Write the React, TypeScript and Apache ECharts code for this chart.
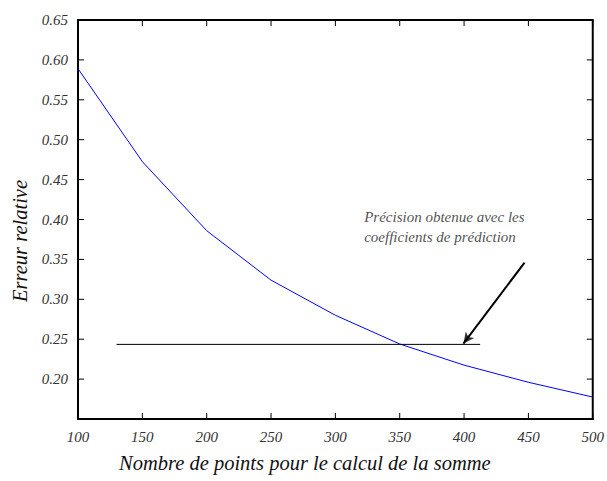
import React, { useEffect, useRef } from "react";
import * as echarts from "echarts";

const xValues = [100, 150, 200, 250, 300, 350, 400, 450, 500];
const erreur = [0.589, 0.4725, 0.386, 0.324, 0.28, 0.244, 0.2175, 0.196, 0.1775];
const yTicks = [0.15, 0.2, 0.25, 0.3, 0.35, 0.4, 0.45, 0.5, 0.55, 0.6, 0.65];
const precisionLevel = 0.2435;
const precisionRange = [130, 412.5];
const arrowFrom = [447, 0.346];
const arrowTo = [399.5, 0.2445];
const annotationAt = [322, 0.39];
const annotationLines = ["Précision obtenue avec les", "coefficients de prédiction"];
const xTitle = "Nombre de points pour le calcul de la somme";
const yTitle = "Erreur relative";

const X_MIN = 100;
const X_MAX = 500;
const Y_MIN = 0.15;
const Y_MAX = 0.65;
const serif = "Liberation Serif";

export default function App() {
  const ref = useRef<HTMLDivElement>(null);
  useEffect(() => {
    if (!ref.current) return;
    const chart = echarts.init(ref.current, null, { renderer: "svg" });
    const TL = 6;
    const frameItem = (params: any, api: any) => {
      const tl = api.coord([X_MIN, Y_MAX]);
      const br = api.coord([X_MAX, Y_MIN]);
      const children: any[] = [
        {
          type: "rect",
          shape: { x: tl[0], y: tl[1], width: br[0] - tl[0], height: br[1] - tl[1] },
          style: { fill: "none", stroke: "#000", lineWidth: 2 },
        },
      ];
      xValues.forEach((x) => {
        const b = api.coord([x, Y_MIN]);
        const t = api.coord([x, Y_MAX]);
        children.push({ type: "line", shape: { x1: b[0], y1: b[1], x2: b[0], y2: b[1] - TL }, style: { stroke: "#000", lineWidth: 1 } });
        children.push({ type: "line", shape: { x1: t[0], y1: t[1], x2: t[0], y2: t[1] + TL }, style: { stroke: "#000", lineWidth: 1 } });
      });
      yTicks.forEach((y) => {
        const l = api.coord([X_MIN, y]);
        const r = api.coord([X_MAX, y]);
        children.push({ type: "line", shape: { x1: l[0], y1: l[1], x2: l[0] + TL, y2: l[1] }, style: { stroke: "#000", lineWidth: 1 } });
        children.push({ type: "line", shape: { x1: r[0], y1: r[1], x2: r[0] - TL, y2: r[1] }, style: { stroke: "#000", lineWidth: 1 } });
      });
      return { type: "group", children };
    };
    chart.setOption({
      animation: false,
      grid: { left: 78, top: 20, right: 8, bottom: 62 },
      graphic: [
        {
          type: "text",
          left: 119,
          top: 453,
          style: { text: xTitle, fontFamily: serif, fontStyle: "italic", fontSize: 20.5, fill: "#111" },
        },
        {
          type: "text",
          x: 10,
          y: 302,
          rotation: Math.PI / 2,
          style: { text: yTitle, fontFamily: serif, fontStyle: "italic", fontSize: 20.5, fill: "#111", verticalAlign: "top" },
        },
      ],
      xAxis: {
        type: "value", min: X_MIN, max: X_MAX, interval: 50, position: "bottom",
        axisLine: { show: true, onZero: false, lineStyle: { color: "#000", width: 2 } },
        axisTick: { show: false },
        axisLabel: { fontFamily: serif, fontStyle: "italic", fontSize: 15, color: "#333", margin: 10 },
        splitLine: { show: false },
      },
      yAxis: {
        type: "value", min: Y_MIN, max: Y_MAX, interval: 0.05, position: "left",
        axisLine: { show: true, onZero: false, lineStyle: { color: "#000", width: 2 } },
        axisTick: { show: false },
        axisLabel: {
          fontFamily: serif, fontStyle: "italic", fontSize: 15, color: "#333", margin: 10,
          showMinLabel: false,
          formatter: (v: number) => Number(v).toFixed(2),
        },
        splitLine: { show: false },
      },
      series: [
        {
          type: "custom",
          data: [[X_MIN, Y_MIN]],
          clip: false,
          silent: true,
          renderItem: frameItem,
        },
        {
          type: "line",
          data: xValues.map((x, i) => [x, erreur[i]]),
          symbol: "none",
          lineStyle: { color: "#0000ff", width: 1 },
        },
        {
          type: "line",
          data: precisionRange.map((x) => [x, precisionLevel]),
          symbol: "none",
          lineStyle: { color: "#000", width: 1 },
        },
        {
          type: "line",
          data: [arrowFrom, arrowTo],
          symbol: "none",
          lineStyle: { color: "#000", width: 2 },
        },
        {
          type: "scatter",
          data: [arrowTo],
          symbol: "arrow",
          symbolSize: [8, 11],
          symbolRotate: 143,
          itemStyle: { color: "#000" },
        },
        {
          type: "scatter",
          data: [annotationAt],
          symbolSize: 1,
          itemStyle: { color: "transparent" },
          label: {
            show: true,
            position: "right",
            distance: 0,
            formatter: annotationLines.join("\n"),
            fontFamily: serif,
            fontStyle: "italic",
            fontSize: 15,
            lineHeight: 20,
            color: "#222",
            align: "left",
          },
        },
      ],
    });
    return () => chart.dispose();
  }, []);
  return <div ref={ref} style={{ width: 607, height: 481, position: "absolute", left: 0, top: 0 }} />;
}
